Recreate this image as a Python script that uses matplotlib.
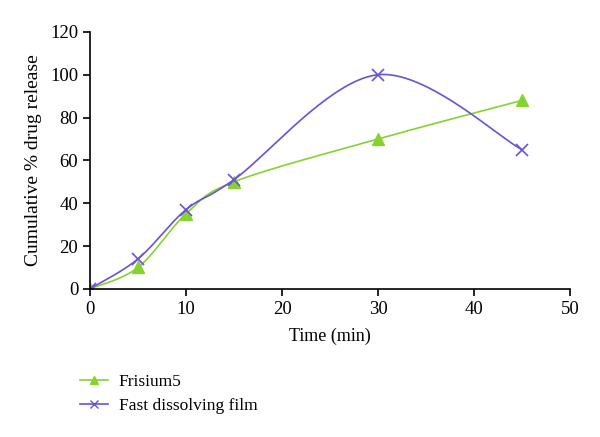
import numpy as np
import matplotlib
matplotlib.use("Agg")
import matplotlib.pyplot as plt

# data
time_min = [0, 5, 10, 15, 30, 45]
frisium5 = [0, 10, 35, 50, 70, 88]
fast_film = [0, 14, 37, 51, 100, 65]

plt.rcParams['font.family'] = ['Liberation Serif', 'DejaVu Serif']


def smooth(x, y, n=40):
    # excel-style smoothed line (bezier through the points)
    x = np.asarray(x, float)
    y = np.asarray(y, float)
    px = np.concatenate([[x[0]], x, [x[-1]]])
    py = np.concatenate([[y[0]], y, [y[-1]]])
    xs, ys = [], []
    t = np.linspace(0, 1, n)
    for i in range(1, len(px) - 2):
        p0 = np.array([px[i], py[i]])
        p3 = np.array([px[i + 1], py[i + 1]])
        p1 = p0 + (np.array([px[i + 1], py[i + 1]]) - np.array([px[i - 1], py[i - 1]])) / 6
        p2 = p3 - (np.array([px[i + 2], py[i + 2]]) - np.array([px[i], py[i]])) / 6
        b = ((1 - t) ** 3)[:, None] * p0 + (3 * (1 - t) ** 2 * t)[:, None] * p1 \
            + (3 * (1 - t) * t ** 2)[:, None] * p2 + (t ** 3)[:, None] * p3
        xs.extend(b[:, 0])
        ys.extend(b[:, 1])
    return xs, ys


green = '#86D232'
purple = '#6A52D2'

fig = plt.figure(figsize=(6, 4.37), dpi=100)
ax = fig.add_axes([0.15, 0.339, 0.8, 0.588])

sx, sy = smooth(time_min, frisium5)
ax.plot(sx, sy, color=green, lw=1.2)
ax.plot(time_min, frisium5, ls='none', marker='^', ms=8, color=green)
sx, sy = smooth(time_min, fast_film)
ax.plot(sx, sy, color=purple, lw=1.2)
ax.plot(time_min, fast_film, ls='none', marker='x', ms=8, mew=1.2, color=purple)

# legend proxies
ax.plot([], [], color=green, lw=1.2, marker='^', ms=6, label='Frisium5')
ax.plot([], [], color=purple, lw=1.2, marker='x', ms=6, label='Fast dissolving film')

ax.set_xlim(0, 50)
ax.set_ylim(0, 120)
ax.set_xticks(range(0, 51, 10))
ax.set_yticks(range(0, 121, 20))
ax.spines['top'].set_visible(False)
ax.spines['right'].set_visible(False)
ax.spines['left'].set_linewidth(1.2)
ax.spines['bottom'].set_linewidth(1.2)
ax.tick_params(direction='out', length=5, width=1.2, labelsize=13.5)
ax.set_xlabel('Time (min)', fontsize=13, labelpad=7)
ax.set_ylabel('Cumulative % drug release', fontsize=14, labelpad=6)

handles = ax.get_lines()[-2:]
fig.legend(handles=handles, loc='upper left', bbox_to_anchor=(0.108, 0.18),
           frameon=False, fontsize=12.5, handlelength=1.6, handletextpad=0.6,
           labelspacing=0.45)

fig.savefig('out.png', dpi=100)
